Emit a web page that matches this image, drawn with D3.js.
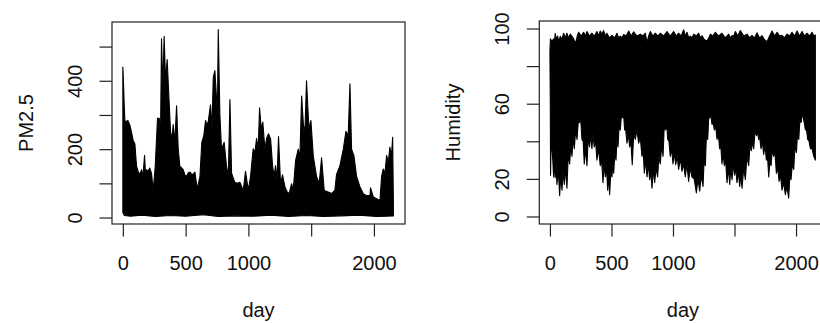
<!DOCTYPE html>
<html>
<head>
<meta charset="utf-8">
<script src="https://cdn.jsdelivr.net/npm/d3@7"></script>
<style>
  body { margin: 0; background: #fff; }
  svg { display: block; font-family: "Liberation Sans", Arial, sans-serif; }
</style>
</head>
<body>
<svg id="chart"></svg>
<script>
// number of daily observations (x runs 0 .. nDays)
const nDays = 2161;
const xTicks = [0, 500, 1000, 1500, 2000];
const xLabels = [0, 500, 1000, 2000];

// PM2.5: upper envelope of the daily series (day, value)
const pmTopDays = [0, 3, 11, 16, 24, 40, 56, 69, 82, 96, 109, 122, 135, 149, 160, 173, 180, 189, 200, 214, 228, 242,
  258, 276, 290, 300, 308, 318, 329, 340, 353, 367, 380, 390, 401, 414, 428, 441, 454, 468, 481, 494, 507, 520, 534,
  554, 574, 592, 614, 629, 645, 659, 670, 680, 698, 710, 720, 733, 746, 753, 760, 773, 786, 807, 826, 840, 853, 866,
  892, 912, 932, 959, 977, 999, 1017, 1038, 1052, 1065, 1078, 1089, 1102, 1115, 1131, 1145, 1160, 1177, 1193, 1205,
  1216, 1228, 1240, 1256, 1272, 1291, 1309, 1325, 1344, 1357, 1376, 1397, 1410, 1424, 1442, 1452, 1463, 1482, 1498,
  1517, 1543, 1564, 1583, 1604, 1636, 1663, 1689, 1702, 1729, 1756, 1777, 1795, 1809, 1822, 1841, 1862, 1888, 1915,
  1942, 1968, 1973, 1995, 2021, 2048, 2061, 2074, 2088, 2101, 2114, 2127, 2140, 2149, 2155];
const pmTop = [440, 416, 328, 284, 280, 284, 270, 250, 225, 215, 150, 135, 125, 140, 120, 182, 130, 140, 135, 145, 130, 80,
  150, 290, 290, 240, 523, 380, 530, 400, 462, 350, 250, 230, 272, 220, 327, 200, 150, 145, 140, 125, 120, 130, 133,
  125, 133, 84, 120, 220, 240, 284, 270, 280, 330, 260, 409, 430, 350, 300, 550, 300, 200, 220, 150, 120, 345, 130,
  103, 100, 103, 79, 135, 80, 120, 201, 190, 232, 200, 321, 260, 279, 200, 232, 245, 230, 150, 120,
  152, 110, 237, 100, 125, 90, 75, 70, 99, 80, 167, 200, 175, 355, 250, 270, 400, 260, 284,
  180, 120, 100, 175, 79, 75, 70, 80, 126, 152, 200, 252, 240, 391, 200, 180, 120, 90, 70,
  64, 64, 87, 60, 55, 50, 120, 142, 130, 182, 160, 206, 180, 235, 40];
// PM2.5: lower envelope
const pmBottomDays = [0, 4, 12, 60, 150, 260, 380, 500, 640, 760, 900, 1040, 1180, 1320, 1460, 1600, 1740, 1880, 2020, 2100, 2155];
const pmBottom = [15, 12, 6, 4, 7, 3, 6, 4, 8, 3, 5, 4, 7, 3, 6, 3, 5, 7, 3, 4, 5];

// Humidity: upper envelope
const humTopDays = [0, 4, 15, 30, 36, 43, 52, 62, 73, 84, 97, 111, 124, 138, 151, 165, 178, 192, 201, 211, 222, 233,
  254, 274, 288, 301, 320, 341, 361, 382, 395, 409, 422, 436, 450, 463, 484, 504, 525, 545, 558, 572, 586, 599, 620,
  640, 660, 680, 707, 734, 755, 775, 782, 789, 802, 816, 836, 856, 877, 897, 924, 951, 978, 1005, 1026, 1046, 1066,
  1087, 1100, 1114, 1128, 1141, 1155, 1168, 1189, 1209, 1222, 1236, 1256, 1276, 1290, 1304, 1324, 1344, 1371, 1398,
  1425, 1453, 1466, 1480, 1494, 1507, 1527, 1547, 1575, 1602, 1622, 1642, 1662, 1683, 1703, 1724, 1744, 1764, 1785,
  1805, 1825, 1846, 1866, 1886, 1906, 1927, 1947, 1967, 1988, 2008, 2028, 2049, 2069, 2089, 2110, 2130, 2144, 2157];
const humTop = [88, 94.5, 93, 94.5, 92, 97.5, 94, 96, 93, 95.9, 94, 97.5, 95, 97.5, 95, 97, 96, 94.7, 93, 92.9, 96, 98,
  96, 98, 96, 98.4, 96, 97.5, 96, 98.4, 96, 98.7, 97, 98.9, 96, 97.5, 95, 96.4, 95, 97.5, 95, 96, 95, 96.8, 96,
  98.7, 96, 98.2, 96, 97, 96, 97.5, 95, 92.7, 96, 98.4, 96, 97.5, 96, 97.5, 96, 98.4, 96, 98.4, 96, 97.5, 96,
  99.3, 96, 98, 95, 96, 95, 97, 96, 97.5, 95, 96.2, 94, 93.4, 95, 97, 96, 98, 96, 97.5,
  95, 97, 95, 96.2, 96, 98.4, 96, 98.9, 96, 97, 95, 96.4, 95, 97.7, 95, 96.2, 94, 93, 96,
  98.7, 96, 98, 96, 96.4, 95, 97, 96, 98, 96, 98.7, 96, 98.4, 96, 97.5, 96, 98, 96, 96.5];
// Humidity: lower envelope
const humBottomDays = [0, 3, 5, 10, 16, 23, 30, 36, 43, 50, 57, 68, 79, 88, 98, 107, 117, 127, 138, 149, 160, 170, 179,
  189, 198, 209, 220, 230, 241, 250, 260, 270, 279, 290, 301, 311, 322, 331, 341, 350, 360, 371, 382, 395, 409, 420,
  431, 440, 450, 460, 469, 477, 485, 495, 504, 511, 518, 528, 537, 545, 553, 562, 572, 581, 591, 599, 607, 616, 626,
  637, 648, 658, 669, 681, 694, 707, 721, 734, 748, 757, 767, 778, 789, 800, 810, 820, 829, 840, 851, 863, 875, 886,
  897, 908, 919, 929, 940, 948, 957, 967, 978, 989, 1000, 1011, 1022, 1034, 1046, 1060, 1073, 1086, 1100, 1113, 1127,
  1140, 1154, 1172, 1190, 1203, 1217, 1230, 1244, 1253, 1263, 1272, 1282, 1290, 1298, 1307, 1317, 1326, 1336, 1347,
  1358, 1368, 1379, 1388, 1398, 1407, 1417, 1428, 1439, 1450, 1461, 1470, 1480, 1490, 1501, 1510, 1520, 1531, 1542,
  1551, 1561, 1575, 1588, 1601, 1615, 1626, 1637, 1646, 1656, 1667, 1678, 1687, 1696, 1705, 1715, 1726, 1737, 1748,
  1759, 1768, 1778, 1787, 1797, 1807, 1818, 1829, 1840, 1851, 1862, 1874, 1886, 1900, 1913, 1926, 1940, 1950, 1959,
  1970, 1981, 1992, 2003, 2012, 2022, 2032, 2041, 2049, 2057, 2066, 2076, 2085, 2095, 2106, 2117, 2130, 2144, 2157];
const humBottom = [85, 60, 22, 40, 37, 30, 21, 30, 20.6, 28, 17, 25, 11, 22, 14, 24, 17, 26, 15, 33, 28, 38, 32,
  42, 36, 46, 41, 50, 50, 52, 41, 40, 28, 36, 27, 42, 37, 44, 36, 44, 37, 40, 30, 36, 27, 30,
  18, 28, 21, 26, 14, 22, 11.6, 24, 21, 28, 23, 34, 30, 42, 37, 48, 46, 54, 52.5, 54, 46, 46, 39,
  44, 37, 40, 27.6, 44, 41, 46, 39, 42, 32, 36, 23, 30, 21, 28, 19.6, 24, 15, 25, 18, 26, 21, 32,
  28, 38, 32, 48, 46, 50, 41, 40, 32, 36, 28, 34, 27.6, 32, 25, 31, 24, 28, 21, 28, 18.7,
  26, 21, 20, 12.5, 20, 13.5, 22, 16, 30, 27, 44, 41, 52, 52.5, 54, 49, 50, 46, 48,
  41, 44, 36, 38, 28, 34, 27, 30, 18, 26, 17, 26, 19.6, 28, 22, 26, 18, 24, 16,
  22, 15, 26, 19.6, 32, 27, 38, 35, 40, 36, 46, 43, 45, 41, 42, 36, 40, 33, 38,
  30, 32, 21, 30, 27, 36, 32, 34, 23, 26, 18.7, 22, 14, 18, 11.6, 16, 9.8, 22, 19.6,
  28, 25, 38, 34, 44, 41, 52, 50, 54, 53, 50, 46, 46, 41, 40, 36, 36, 32, 30];
// y-axis limits of the humidity series (the full series spans 0 to 100)
const humLimits = [0, 100];

const pmTicks = [0, 100, 200, 300, 400, 500];
const pmLabels = [0, 200, 400];
const humTicks = [0, 20, 40, 60, 80, 100];
const humLabels = [0, 20, 60, 100];

const width = 820;
const height = 323;
const fontSize = 20;

const svg = d3.select("svg#chart").attr("width", width).attr("height", height);

// R style: pad data range by 4% on each side
const pad = ([a, b]) => [a - 0.04 * (b - a), b + 0.04 * (b - a)];

function panel({ box, topDays, top, bottomDays, bottom, yLimits, yTicks, yLabels, ylab }) {
  const g = svg.append("g");

  const x = d3.scaleLinear(pad([0, nDays]), [box.left, box.right]);
  const y = d3.scaleLinear(pad(yLimits), [box.bottom, box.top]);

  // envelope of the dense daily line: top edge left->right, bottom edge right->left
  const pts = topDays.map((d, i) => [d, top[i]])
    .concat(bottomDays.map((d, i) => [d, bottom[i]]).reverse());

  const line = d3.line().x(d => x(d[0])).y(d => y(d[1]));

  g.append("path")
    .attr("d", line(pts) + "Z")
    .style("fill", "#000")
    .style("stroke", "#000")
    .style("stroke-width", 1.1)
    .style("stroke-linejoin", "round");

  g.append("rect")
    .attr("x", box.left)
    .attr("y", box.top)
    .attr("width", box.right - box.left)
    .attr("height", box.bottom - box.top)
    .style("fill", "none")
    .style("stroke", "#222")
    .style("stroke-width", 1.2);

  const xAxis = d3.axisBottom(x)
    .tickValues(xTicks)
    .tickSize(12.5)
    .tickFormat(d => (xLabels.includes(d) ? d : ""));

  const gx = g.append("g")
    .attr("transform", `translate(0, ${box.bottom})`)
    .call(xAxis);
  gx.select(".domain").remove();
  gx.selectAll("line").style("stroke", "#222").style("stroke-width", 1.2);
  gx.selectAll("text")
    .attr("y", 45.5)
    .attr("dy", 0)
    .style("font-size", fontSize + "px")
    .style("font-family", "'Liberation Sans', Arial, sans-serif")
    .style("fill", "#111");

  const yAxis = d3.axisLeft(y)
    .tickValues(yTicks)
    .tickSize(12.5)
    .tickFormat(d => (yLabels.includes(d) ? d : ""));

  const gy = g.append("g")
    .attr("transform", `translate(${box.left}, 0)`)
    .call(yAxis);
  gy.select(".domain").remove();
  gy.selectAll("line").style("stroke", "#222").style("stroke-width", 1.2);
  gy.selectAll("text")
    .attr("x", null)
    .attr("dy", null)
    .attr("transform", "translate(-30.3, 0) rotate(-90)")
    .attr("text-anchor", "middle")
    .style("font-size", fontSize + "px")
    .style("font-family", "'Liberation Sans', Arial, sans-serif")
    .style("fill", "#111");

  g.append("text")
    .attr("x", (box.left + box.right) / 2)
    .attr("y", 317)
    .attr("text-anchor", "middle")
    .style("font-size", fontSize + "px")
    .style("fill", "#111")
    .text("day");

  g.append("text")
    .attr("transform", `translate(${box.left - 79}, ${(box.top + box.bottom) / 2}) rotate(-90)`)
    .attr("text-anchor", "middle")
    .style("font-size", fontSize + "px")
    .style("fill", "#111")
    .text(ylab);
}

panel({
  box: { left: 112, right: 405, top: 22, bottom: 224 },
  topDays: pmTopDays, top: pmTop,
  bottomDays: pmBottomDays, bottom: pmBottom,
  yLimits: [d3.min(pmBottom), d3.max(pmTop)],
  yTicks: pmTicks, yLabels: pmLabels,
  ylab: "PM2.5"
});

panel({
  box: { left: 539.3, right: 826.5, top: 21, bottom: 224 },
  topDays: humTopDays, top: humTop,
  bottomDays: humBottomDays, bottom: humBottom,
  yLimits: humLimits,
  yTicks: humTicks, yLabels: humLabels,
  ylab: "Humidity"
});
</script>
</body>
</html>
